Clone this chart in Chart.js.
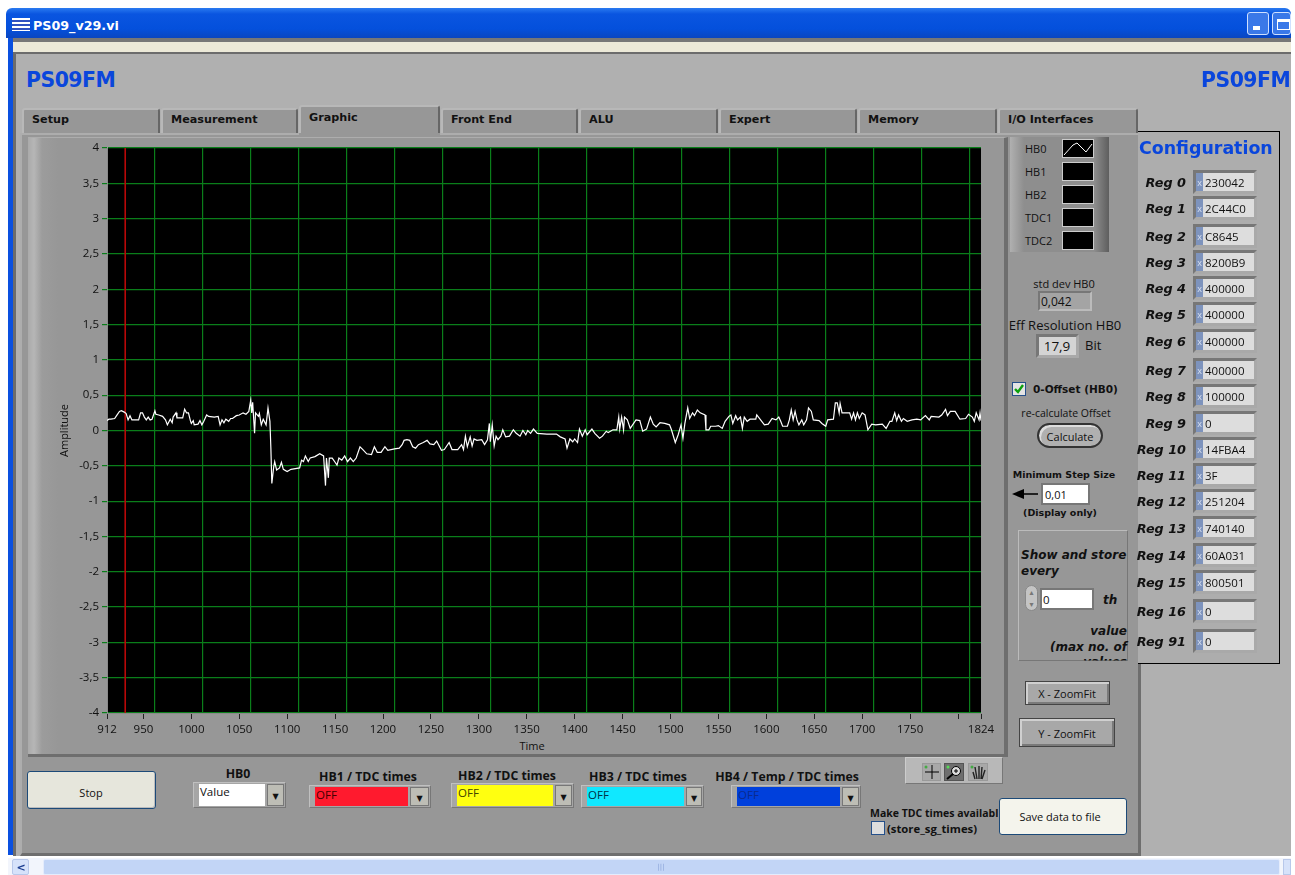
<!DOCTYPE html>
<html>
<head>
<meta charset="utf-8">
<title>PS09_v29.vi</title>
<script src="https://cdn.jsdelivr.net/npm/chart.js@4"></script>
<style>
html,body{margin:0;padding:0;background:#fff;overflow:hidden;width:1295px;height:875px}
#ui{position:absolute;left:0;top:0;width:1291px;height:875px;overflow:hidden;font-family:"DejaVu Sans",sans-serif;color:#111;filter:blur(.3px)}
#ui div{position:absolute;box-sizing:border-box;white-space:nowrap}
#graph{position:absolute;left:28px;top:137px;filter:blur(.3px)}
</style>
</head>
<body>
<div id="ui"></div>
<canvas id="graph" width="977" height="618"></canvas>
<script>
// values
const timeValues = [912,914,916,920,922,925,927,930,932,934,936,938,945,947,949,951,953,955,957,959,962,963,966,970,973,975,978,980,981,984,985,991,993,995,997,999,1000,1002,1003,1007,1009,1011,1013,1016,1018,1024,1028,1030,1032,1034,1036,1039,1041,1043,1047,1050,1054,1057,1060,1062,1063,1064,1066,1067,1070,1071,1073,1075,1078,1080,1082,1083,1084,1086,1087,1089,1092,1094,1096,1100,1104,1113,1115,1117,1119,1122,1124,1129,1134,1138,1140,1141,1143,1144,1147,1150,1152,1154,1157,1160,1163,1166,1169,1172,1176,1179,1183,1188,1191,1194,1198,1202,1205,1212,
1217,1220,1222,1225,1228,1231,1234,1237,1242,1246,1249,1253,1256,1261,1264,1269,1272,1278,1282,1284,1286,1288,1291,1293,1295,1298,1303,1306,1309,1311,1312,1314,1316,1318,1320,1323,1325,1328,1332,1336,1339,1343,1346,1349,1351,1354,1357,1361,1371,1381,1385,1390,1392,1395,1398,1400,1403,1405,1408,1411,1413,1418,1421,1426,1429,1433,1435,1440,1444,1446,1447,1449,1451,1452,1455,1458,1461,1464,1468,1471,1475,1479,1482,1485,1489,1494,1499,1501,1505,1508,1511,1513,1515,1518,1520,1523,1525,1528,1531,
1536,1537,1540,1542,1547,1550,1554,1557,1561,1563,1565,1568,1570,1573,1575,1577,1580,1583,1589,1590,1594,1598,1602,1606,1610,1613,1615,1617,1622,1624,1626,1628,1630,1632,1634,1637,1639,1642,1644,1647,1649,1655,1658,1662,1664,1670,1672,1674,1676,1677,1679,1682,1687,1689,1691,1693,1695,1697,1700,1703,1706,1710,1714,1721,1725,1729,1731,1734,1736,1738,1741,1743,1747,1752,1757,1761,1766,1770,1772,1780,1783,1787,1789,1792,1797,1802,1808,1811,1815,1817,1819,1822,1823,1824];
const hb0Values = [.14,.16,.16,.17,.21,.27,.28,.26,.24,.15,.21,.15,.15,.25,.25,.19,.15,.19,.15,.16,.28,.23,.22,.20,.15,.08,.16,.11,.19,.25,.18,.18,.30,.25,.25,.14,.10,.14,.08,.09,.14,.08,.13,.22,.20,.19,.20,.08,.15,.11,.16,.13,.17,.17,.21,.22,.25,.23,.27,.43,.25,.40,-.04,.25,.20,.24,.08,.16,.08,.32,.13,-.25,-.75,-.51,-.44,-.56,-.53,-.45,-.55,-.58,-.55,-.53,-.42,-.44,-.36,-.44,-.39,-.37,-.33,-.36,-.78,-.39,-.67,-.39,-.39,-.45,-.49,-.39,-.42,-.36,-.44,-.39,-.44,-.39,-.23,-.27,-.33,-.34,-.23,-.31,-.31,-.23,-.28,-.26,
-.25,-.20,-.14,-.13,-.14,-.23,-.25,-.20,-.17,-.14,-.19,-.20,-.15,-.28,-.27,-.17,-.27,-.27,-.20,-.27,-.08,-.23,-.09,-.22,-.12,-.14,-.13,-.20,-.13,.10,-.16,.08,-.22,-.08,-.13,-.08,.01,-.09,-.08,.01,-.04,-.08,0,-.06,0,-.04,.02,-.04,-.05,-.05,-.09,-.12,-.25,-.12,-.16,-.12,-.17,.02,-.08,.01,-.06,.02,-.04,-.11,-.08,-.01,-.03,.01,.01,.19,.02,.19,.01,.19,.15,.03,.09,.15,.14,-.01,.02,.19,.09,.05,.11,.10,.08,.01,-.17,-.06,.08,-.11,.10,.32,.17,.25,.21,.29,.25,
.22,.01,.01,.06,.06,.07,.03,.13,.20,.22,.10,.21,.15,.19,.03,.19,.13,.16,.16,.22,.15,.08,.09,.17,.15,.19,.13,.06,.06,.15,.29,.15,.27,.15,.08,.15,.08,.15,.32,.27,.15,.14,.10,.06,.15,.16,.39,.39,.25,.38,.25,.25,.25,.16,.25,.15,.25,.17,.25,.22,.01,.09,.08,.09,.03,.13,.13,.25,.14,.22,.13,.17,.13,.15,.16,.15,.21,.15,.20,.19,.22,.30,.21,.27,.27,.16,.17,.23,.19,.13,.25,.15,.25,.14];
const xTickValues = [912,950,1000,1050,1100,1150,1200,1250,1300,1350,1400,1450,1500,1550,1600,1650,1700,1750,1800,1824];
const xHiddenLabels = [1800];
const xGridValues = [962,1012,1062,1112,1162,1212,1262,1312,1362,1412,1462,1512,1562,1612,1662,1712,1762,1812];
const cursorTime = [931,931];
const cursorRange = [-4,4];
const regNames = ['Reg 0','Reg 1','Reg 2','Reg 3','Reg 4','Reg 5','Reg 6','Reg 7','Reg 8','Reg 9','Reg 10','Reg 11','Reg 12','Reg 13','Reg 14','Reg 15','Reg 16','Reg 91'];
const regValues = ['230042','2C44C0','C8645','8200B9','400000','400000','400000','400000','100000','0','14FBA4','3F','251204','740140','60A031','800501','0','0'];
const regRows = [182,208,236,262,288,314,341,370,396,423,449,475,501,528,555,582,611,641];
const tabNames = ['Setup','Measurement','Graphic','Front End','ALU','Expert','Memory','I/O Interfaces'];
const tabEdges = [20,161,299,441,579,719,858,998,1139];
const legendNames = ['HB0','HB1','HB2','TDC1','TDC2'];

const ui = document.getElementById('ui');
function box(x1,y1,x2,y2,css,html){
	var d = document.createElement('div');
	d.style.cssText = 'left:'+x1+'px;top:'+y1+'px;width:'+(x2-x1)+'px;height:'+(y2-y1)+'px;'+(css||'');
	if(html) d.innerHTML = html;
	ui.appendChild(d);
	return d;
}
// x is the left edge, the centre or the right edge depending on align
function txt(s,x,y,font,align,css){
	var d = document.createElement('div');
	var tr = align=='c' ? 'translate(-50%,-50%)' : align=='r' ? 'translate(-100%,-50%)' : 'translateY(-50%)';
	d.style.cssText = 'left:'+x+'px;top:'+y+'px;font:'+font+';transform:'+tr+';'+(css||'');
	d.textContent = s;
	ui.appendChild(d);
	return d;
}
const sunken = 'background:#ddd;border:3px solid #8a8a8a;border-top-color:#777;border-left-color:#777;border-bottom-color:#a9a9a9;border-right-color:#a9a9a9;';
const raised = 'background:#a8a8a8;border:1px solid #444;box-shadow:inset 2px 2px 0 #d0d0d0,inset -2px -2px 0 #7a7a7a;';
const smallF = '11px "Open Sans",sans-serif';

// window frame
box(6,8,1291,38,'background:linear-gradient(#2a7af0,#0a55e0 20%,#0450dc 70%,#0a46c0);border-radius:6px 6px 0 0');
box(8,38,13,855,'background:#0a50e0');
box(13,38,1291,42,'background:#777');
box(13,42,1291,52,'background:#ece9d8');
box(13,52,1291,856,'background:#b0b0b0;border-top:2px solid #6c6c6c;border-left:3px solid #6c6c6c');
box(12,18,30,31,'background:repeating-linear-gradient(#fff 0 2px,#3050c0 2px 4px)');
txt('PS09_v29.vi',33,25,'bold 12.7px "DejaVu Sans",sans-serif','l','color:#fff');
box(1247,12,1269,35,'background:#3a78e8;border:1px solid #cfe0ff;border-radius:3px');
box(1272,12,1291,35,'background:#3a78e8;border:1px solid #cfe0ff;border-radius:3px');
box(1253,26,1260,30,'background:#fff');
box(1277,19,1290,30,'border:1px solid #fff;border-top-width:3px');
txt('PS09FM',26,80,'bold 20.4px "DejaVu Sans",sans-serif','l','color:#0a46dc;letter-spacing:-.5px');
txt('PS09FM',1201,80,'bold 20.4px "DejaVu Sans",sans-serif','l','color:#0a46dc;letter-spacing:-.5px');

// tabs
box(20,133,1141,856,'background:#979797;border-right:3px solid #6e6e6e;border-bottom:3px solid #6e6e6e;border-top:2px solid #adadad;border-left:2px solid #adadad');
tabNames.forEach(function(name,i){
	var sel = name=='Graphic';
	box(tabEdges[i]+(i?0:2),sel?105:108,tabEdges[i+1]-1,sel?136:133,'background:#979797;border-top:2px solid #b8b8b8;border-left:2px solid #b8b8b8;border-right:2px solid #666;border-radius:3px 3px 0 0');
	txt(name,tabEdges[i]+(i?10:12),sel?117:119,'bold 11.2px "DejaVu Sans",sans-serif','l');
});
box(299,133,440,137,'background:#979797');

// graph panel
box(28,137,1008,757,'background:linear-gradient(90deg,#aaa 0,#b6b6b6 6px,#9c9c9c 14px,#979797 30px);border-right:4px solid #6e6e6e;border-bottom:3px solid #6e6e6e;border-top:1px solid #adadad');
txt('Time',532,745,smallF,'c');

// legend
box(1010,137,1109,252,'background:linear-gradient(90deg,#b0b0b0,#8e8e8e 14px,#8e8e8e 84px,#5e5e5e)');
legendNames.forEach(function(name,i){
	txt(name,1025,148+i*23,smallF);
	box(1062,139+i*23,1094,158+i*23,'background:#000;border:1px solid #ccc');
});
box(1063,140,1093,157,'','<svg width="30" height="17" style="display:block"><polyline points="1,15 10,5 14,3 23,12 29,4" fill="none" stroke="#fff" stroke-width="1"/></svg>');

// readouts
txt('std dev HB0',1064,283,smallF,'c');
box(1038,291,1092,311,'background:#a4a4a4;border:2px solid #777;border-bottom-color:#bbb;border-right-color:#bbb');
txt('0,042',1041,301,'12px "Open Sans",sans-serif');
txt('Eff Resolution HB0',1065,325,'13px "Open Sans",sans-serif','c');
box(1036,334,1079,358,sunken.replace('#ddd','#d4d4d4'));
txt('17,9',1057,346,'13.5px "Open Sans",sans-serif','c');
txt('Bit',1085,345,'13px "Open Sans",sans-serif');
box(1012,382,1026,396,'background:#e4e4e4;border:1px solid #25508a');
box(1013,383,1025,395,'','<svg width="12" height="12" style="display:block"><polyline points="2,6 5,9 10,2" fill="none" stroke="#0ca00c" stroke-width="2.4"/></svg>');
txt('0-Offset (HB0)',1033,389,'bold 10.5px "DejaVu Sans",sans-serif');
txt('re-calculate Offset',1066,413,'10.5px "Open Sans",sans-serif','c');
box(1037,423,1103,448,'background:#b0b0b0;border:2px solid #333;border-radius:13px;box-shadow:inset 2px 2px 0 #ddd');
txt('Calculate',1070,436,smallF,'c');
txt('Minimum Step Size',1064,474,'bold 9.5px "DejaVu Sans",sans-serif','c');
box(1012,489,1024,499,'width:0;height:0;border-top:5px solid transparent;border-bottom:5px solid transparent;border-right:12px solid #000');
box(1024,493,1038,495,'background:#222');
box(1041,483,1090,505,'background:#fff;border:2px solid #777');
txt('0,01',1045,494,smallF);
txt('(Display only)',1060,512,'bold 9.5px "DejaVu Sans",sans-serif','c');

// show and store
box(1018,530,1128,661,'border:1px solid #bbb;border-right-color:#777;border-bottom-color:#777;overflow:hidden');
box(1040,588,1094,610,'background:#fff;border:2px solid #777');
box(1025,585,1038,611,'background:#c4c4c4;border-radius:7px;border:1px solid #888');
txt('\u25B4',1031.5,592,'8px "DejaVu Sans",sans-serif','c','color:#777');
txt('\u25BE',1031.5,604,'8px "DejaVu Sans",sans-serif','c','color:#777');
txt('0',1043,599,'11.5px "Open Sans",sans-serif');
[['Show and store',1021,555,'l'],['every',1021,571,'l'],['th',1103,600,'l'],['value',1127,631,'r'],['(max no. of',1127,647,'r']].forEach(function(t){
	txt(t[0],t[1],t[2],'italic bold 12px "DejaVu Sans",sans-serif',t[3]);
});
txt('values',1127,662,'italic bold 12px "DejaVu Sans",sans-serif','r','clip-path:inset(0 0 60% 0)');

box(1025,681,1110,705,raised);
txt('X - ZoomFit',1067,693,smallF,'c');
box(1019,718,1115,747,raised);
txt('Y - ZoomFit',1067,733,smallF,'c');

// configuration
box(1138,131,1280,664,'background:#adadad;border:1px solid #000;border-left:none');
txt('Configuration',1139,148,'bold 17.4px "DejaVu Sans",sans-serif','l','color:#0a46dc');
regNames.forEach(function(name,i){
	var y = regRows[i];
	txt(name,1186,y,'italic bold 12.8px "DejaVu Sans",sans-serif','r');
	box(1193,y-12,1257,y+12,sunken);
	box(1196,y-9,1203,y+9,'background:#7d93bd');
	txt('x',1199.5,y,'9px "Open Sans",sans-serif','c','color:#d8e0f0');
	txt(regValues[i],1205,y,'11.5px "Open Sans",sans-serif');
});

// bottom controls
box(27,771,156,809,'background:#e6e6dc;border:1px solid #1c4a78;border-radius:3px;box-shadow:inset -1px -1px 0 #bbb');
txt('Stop',91,792,smallF,'c');
function dropdown(x1,y1,x2,fx2,color,title,tx,ty,textColor){
	txt(title,tx,ty,'bold 12.3px "Open Sans",sans-serif','c');
	box(x1,y1,x2,808,'background:#a6a6a6;border:1px solid #c0c0c0;border-right-color:#777;border-bottom-color:#777');
	box(x1+6,y1+2,fx2,806,'background:'+color);
	box(fx2+2,y1+2,x2-2,806,'background:#bdbdb5;border:1px solid #777');
	txt('\u25BC',(fx2+x2)/2,y1+(808-y1)/2+1,'8px "DejaVu Sans",sans-serif','c');
	txt(title=='HB0'?'Value':'OFF',x1+7,y1+9,'11.5px "Open Sans",sans-serif','l','color:'+textColor);
}
dropdown(193,782,286,265,'#fff','HB0',238,773,'#111');
dropdown(309,785,431,408,'#ff1a2e','HB1 / TDC times',368,776,'#400');
dropdown(451,783,574,553,'#ffff10','HB2 / TDC times',507,775,'#440');
dropdown(581,785,704,684,'#10e8ff','HB3 / TDC times',638,776,'#034');
dropdown(731,785,861,840,'#0040dc','HB4 / Temp / TDC times',787,776,'#0a2a90');

// graph palette
box(905,757,1003,784,'background:#b8b8b8;border:1px solid #ccc;border-right-color:#777;border-bottom-color:#777');
box(922,763,941,781,'background:#a8a8a8;border:1px solid #999','<svg width="17" height="16" style="display:block"><path d="M9 1V15M2 8H16" stroke="#000" stroke-width="1"/><circle cx="3" cy="3" r="1.5" fill="#4a4"/></svg>');
box(944,763,964,781,'background:#6e6e6e;border:1px solid #555','<svg width="18" height="16" style="display:block"><circle cx="11" cy="7" r="4.5" fill="#ddd" stroke="#000"/><path d="M8 10L2 15" stroke="#000" stroke-width="2"/><path d="M9 7H13M11 5V9" stroke="#000"/><circle cx="3" cy="3" r="1.5" fill="#5d5"/></svg>');
box(968,763,988,781,'background:#a8a8a8;border:1px solid #999','<svg width="18" height="16" style="display:block"><path d="M6 15L4 8M8 15L6 3M10 15V2M12 15L13 3M13 15L16 6" stroke="#222" stroke-width="1.4"/><circle cx="3" cy="3" r="1.5" fill="#4a4"/></svg>');

txt('Make TDC times available',870,813,'bold 10.5px "Open Sans",sans-serif','l','width:128px;overflow:hidden');
box(871,821,885,835,'background:#ddd;border:1px solid #25508a');
txt('(store_sg_times)',887,828,'bold 11.3px "Open Sans",sans-serif');
box(999,798,1127,835,'background:#f4f4ec;border:1px solid #1c4a78;border-radius:3px');
txt('Save data to file',1060,816,smallF,'c');

// scrollbar
box(8,858,1291,875,'background:#f2f5fc');
box(12,859,29,875,'background:#d6e2fa;border:1px solid #b8c8ea;border-radius:2px');
txt('<',21,867,'bold 11px "DejaVu Sans",sans-serif','c','color:#1a3c90');
box(43,859,1280,875,'background:#c2d5f6;border:1px solid #e4ecfc;border-radius:2px');
txt('|||',661,867,'7px "DejaVu Sans",sans-serif','c','color:#8aa4d8');
box(1283,859,1291,875,'background:#d6e2fa;border:1px solid #b8c8ea');

// black plot background
const plotBackground = {
	id: 'plotBackground',
	beforeDraw: function(chart){
		var a = chart.chartArea, ctx = chart.ctx;
		ctx.save();
		ctx.fillStyle = '#000';
		ctx.fillRect(a.left, a.top, a.width, a.height);
		ctx.restore();
	}
};
const gridGreen = '#0a7e1a';
const tickFont = {family:'"Open Sans",sans-serif', size:11.5};

new Chart(document.getElementById('graph'), {
	type: 'line',
	plugins: [plotBackground],
	data: {
		datasets: [{
			label: 'HB0',
			data: timeValues.map(function(t,i){ return {x:t, y:hb0Values[i]}; }),
			borderColor: '#fff',
			borderWidth: 1.2,
			pointRadius: 0,
			tension: 0
		},{
			label: 'cursor',
			data: cursorTime.map(function(t,i){ return {x:t, y:cursorRange[i]}; }),
			borderColor: '#b80808',
			borderWidth: 1.6,
			pointRadius: 0
		}]
	},
	options: {
		responsive: false,
		animation: false,
		layout: {padding: {top:11, right:24, left:0, bottom:0}},
		plugins: {legend: {display:false}, title: {display:false}, tooltip: {enabled:false}},
		scales: {
			x: {
				type: 'linear',
				position: 'bottom',
				min: 912,
				max: 1824,
				afterBuildTicks: function(scale){ scale.ticks = xTickValues.map(function(v){ return {value:v}; }); },
				afterFit: function(scale){ scale.height = 42; },
				ticks: {
					autoSkip: false,
					maxRotation: 0,
					padding: 4,
					color: '#111',
					font: tickFont,
					callback: function(v){ return xHiddenLabels.indexOf(v) >= 0 ? '' : String(v); }
				},
				grid: {drawOnChartArea:false, drawTicks:true, tickLength:6, tickColor:'#222'},
				border: {color:'#8a8a8a'}
			},
			xGrid: {
				type: 'linear',
				axis: 'x',
				position: 'top',
				min: 912,
				max: 1824,
				afterBuildTicks: function(scale){ scale.ticks = xGridValues.map(function(v){ return {value:v}; }); },
				afterFit: function(scale){ scale.height = 0; },
				ticks: {display:false, autoSkip:false},
				grid: {drawTicks:false, color:gridGreen, lineWidth:1.2},
				border: {display:false}
			},
			y: {
				min: -4,
				max: 4,
				afterFit: function(scale){ scale.width = 79; },
				ticks: {
					stepSize: 0.5,
					autoSkip: false,
					padding: 3,
					color: '#111',
					font: tickFont,
					callback: function(v){ return String(v).replace('.', ','); }
				},
				grid: {color:gridGreen, lineWidth:1.2, tickLength:5, tickColor:gridGreen},
				border: {color:'#8a8a8a'},
				title: {display:true, text:'Amplitude', color:'#111', font:{family:'"Open Sans",sans-serif', size:11}, padding:{top:30,bottom:0}}
			}
		}
	}
});
</script>
</body>
</html>
